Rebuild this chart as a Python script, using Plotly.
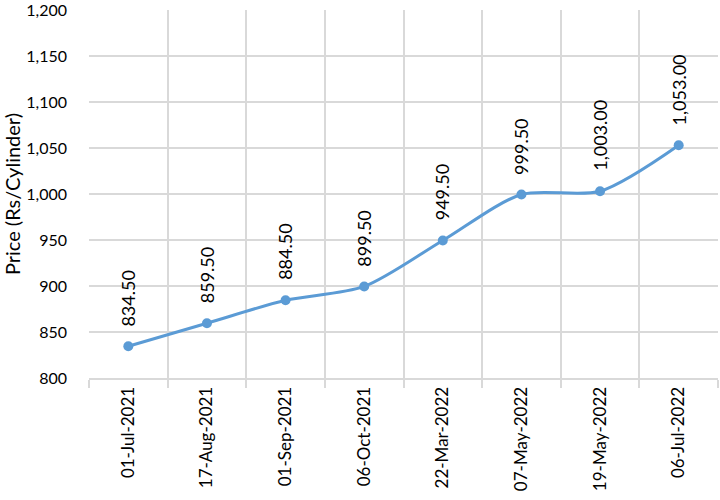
import plotly.graph_objects as go

dates = ["01-Jul-2021", "17-Aug-2021", "01-Sep-2021", "06-Oct-2021",
         "22-Mar-2022", "07-May-2022", "19-May-2022", "06-Jul-2022"]
prices = [834.50, 859.50, 884.50, 899.50, 949.50, 999.50, 1003.00, 1053.00]

FONT = "Lato"
LINE = "#5B9BD5"
GRID = "#D9D9D9"

fig = go.Figure()
fig.add_trace(go.Scatter(
    x=dates, y=prices, mode="lines+markers",
    line=dict(color=LINE, width=3, shape="spline", smoothing=0.8),
    marker=dict(color=LINE, size=10),
    hoverinfo="skip", cliponaxis=False,
))

for d, p in zip(dates, prices):
    fig.add_annotation(
        x=d, y=p, text=f"{p:,.2f}", showarrow=False, textangle=-90,
        xanchor="center", yanchor="bottom", yshift=18,
        font=dict(family=FONT, size=18, color="#000000"),
    )

fig.update_layout(
    width=720, height=500,
    margin=dict(l=89, r=2, t=10, b=122, autoexpand=False),
    plot_bgcolor="white", paper_bgcolor="white",
    showlegend=False,
    font=dict(family=FONT, size=16, color="#000000"),
)
fig.update_xaxes(
    type="category", range=[-0.5, 7.5], tickson="boundaries",
    showgrid=True, gridcolor=GRID, gridwidth=2,
    ticks="outside", ticklen=8, tickcolor=GRID, tickwidth=2,
    showline=True, linecolor=GRID, linewidth=2,
    tickangle=-90, tickfont=dict(family=FONT, size=17), automargin=False,
)
fig.update_yaxes(
    range=[800, 1200], dtick=50, tickformat=",",
    showgrid=True, gridcolor=GRID, gridwidth=2,
    zeroline=False, showline=False, automargin=False,
    ticklabeloverflow="allow", ticklabelstandoff=21,
    tickfont=dict(family=FONT, size=16),
    title=dict(text="Price (Rs/Cylinder)", font=dict(family=FONT, size=20), standoff=4),
)

fig.write_html("out.html", config={"displayModeBar": False},
               post_script="document.body.style.margin='0';")
